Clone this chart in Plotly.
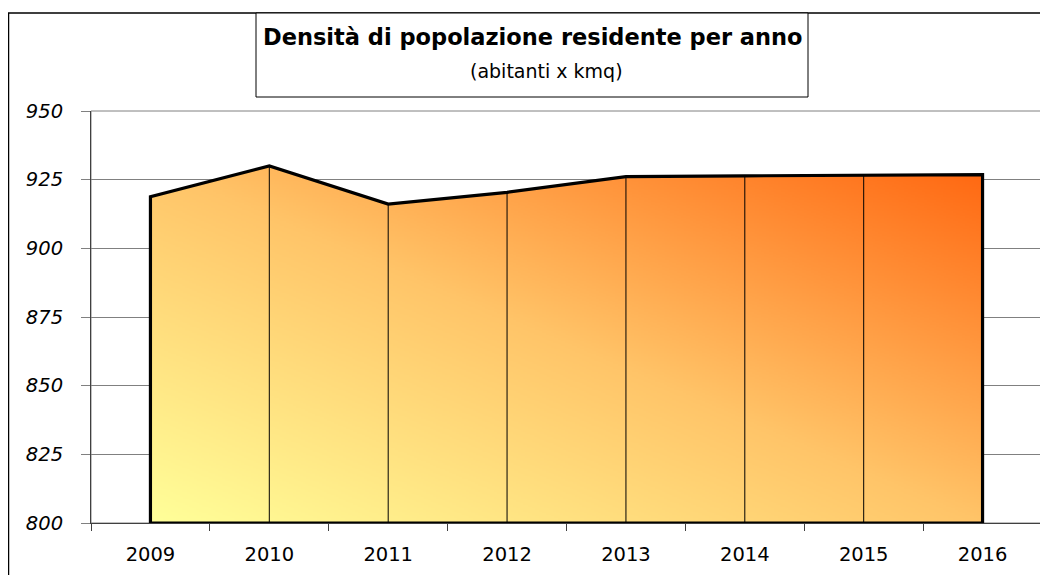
import numpy as np
import plotly.graph_objects as go

# ---- data ----
years = ["2009", "2010", "2011", "2012", "2013", "2014", "2015", "2016"]
density = [918.8, 930.0, 916.1, 920.4, 926.1, 926.4, 926.7, 926.8]
y_tick_values = [800, 825, 850, 875, 900, 925, 950]
title_text = "Densità di popolazione residente per anno"
subtitle_text = "(abitanti x kmq)"

# ---- layout geometry (page pixels; the page body has an 8px margin) ----
OFF = 8
W, H = 1048 - OFF, 575 - OFF
PLOT_L, PLOT_R, PLOT_T, PLOT_B = 91, 1042, 111, 523
ML, MR = PLOT_L - OFF, (W + OFF) - PLOT_R
MT, MB = PLOT_T - OFF, (H + OFF) - PLOT_B
PW, PH = PLOT_R - PLOT_L, PLOT_B - PLOT_T


def px_x(px):
    return (px - PLOT_L) / PW


def px_y(py):
    return (PLOT_B - py) / PH


n = len(years)
x_idx = np.arange(n)
ybase = y_tick_values[0]

# ---- diagonal gradient fill under the curve (heatmap masked by the data line) ----
nx, ny = 480, 220
xe = np.linspace(0, n - 1, nx + 1)
xc = (xe[:-1] + xe[1:]) / 2
ytop = max(density)
ye = np.linspace(ybase, ytop, ny + 1)
yc = (ye[:-1] + ye[1:]) / 2
curve = np.interp(xc, x_idx, density)
U = xc / (n - 1)
V = (yc - ybase) / (ytop - ybase)
Z = (U[None, :] + V[:, None]) / 2
mask = yc[:, None] > curve[None, :]
z_list = [[None if mask[j, i] else round(float(Z[j, i]), 3) for i in range(nx)] for j in range(ny)]

fig = go.Figure()
fig.add_trace(go.Heatmap(
    x=xc, y=yc, z=z_list,
    colorscale=[[0, "#FFFF99"], [0.5, "#FFC468"], [1, "#FF6610"]],
    zmin=0, zmax=1, showscale=False, zsmooth=False, hoverinfo="skip",
))

# thin vertical drop lines at inner categories
dx, dy = [], []
for i in range(1, n - 1):
    dx += [x_idx[i], x_idx[i], None]
    dy += [ybase, density[i], None]
fig.add_trace(go.Scatter(x=dx, y=dy, mode="lines",
                         line=dict(color="black", width=1), hoverinfo="skip"))

# thick outline of the area
ox = [x_idx[0]] + list(x_idx) + [x_idx[-1], x_idx[0]]
oy = [ybase] + list(density) + [ybase, ybase]
fig.add_trace(go.Scatter(x=ox, y=oy, mode="lines",
                         line=dict(color="black", width=3.2), hoverinfo="skip"))

font_family = "DejaVu Sans, Liberation Sans, Arial, sans-serif"

fig.update_layout(
    width=W, height=H,
    margin=dict(l=ML, r=MR, t=MT, b=MB, pad=0),
    paper_bgcolor="white", plot_bgcolor="white",
    showlegend=False,
    font=dict(family=font_family, color="black"),
    xaxis=dict(
        range=[-0.5, n - 0.5],
        tickmode="array", tickvals=list(x_idx), ticktext=years,
        ticks="", showgrid=False, zeroline=False,
        showline=True, linecolor="#404040", linewidth=1,
        tickfont=dict(size=19.5, family=font_family),
        ticklabelstandoff=14,
        minor=dict(tickmode="array", tickvals=list(np.arange(-0.5, n, 1.0)),
                   ticks="outside", ticklen=7, tickcolor="#404040", tickwidth=1,
                   showgrid=False),
    ),
    yaxis=dict(
        range=[y_tick_values[0], y_tick_values[-1]],
        tickmode="array", tickvals=y_tick_values,
        ticks="outside", ticklen=9, tickcolor="#808080",
        showgrid=True, gridcolor="#808080", gridwidth=1,
        zeroline=False, showline=True, linecolor="#404040", linewidth=1,
        tickfont=dict(size=19.5, family=font_family, style="italic"),
        ticklabelstandoff=14,
    ),
    shapes=[
        # plot area border (gray)
        dict(type="rect", xref="paper", yref="paper", x0=0, x1=1, y0=0, y1=1,
             line=dict(color="#808080", width=1), layer="below"),
        # outer chart border
        dict(type="rect", xref="paper", yref="paper",
             x0=px_x(8.5), x1=px_x(1060), y0=px_y(600), y1=px_y(13),
             line=dict(color="black", width=1.5)),
        # title box
        dict(type="rect", xref="paper", yref="paper",
             x0=px_x(256), x1=px_x(808), y0=px_y(97), y1=px_y(13),
             line=dict(color="black", width=1), fillcolor="white"),
    ],
    annotations=[
        dict(text="<b>" + title_text + "</b>", xref="paper", yref="paper",
             x=px_x(533), y=px_y(37), xanchor="center", yanchor="middle",
             showarrow=False, font=dict(size=22.5, family=font_family)),
        dict(text=subtitle_text, xref="paper", yref="paper",
             x=px_x(546), y=px_y(71), xanchor="center", yanchor="middle",
             showarrow=False, font=dict(size=19, family=font_family)),
    ],
)

fig.write_html("out.html")
